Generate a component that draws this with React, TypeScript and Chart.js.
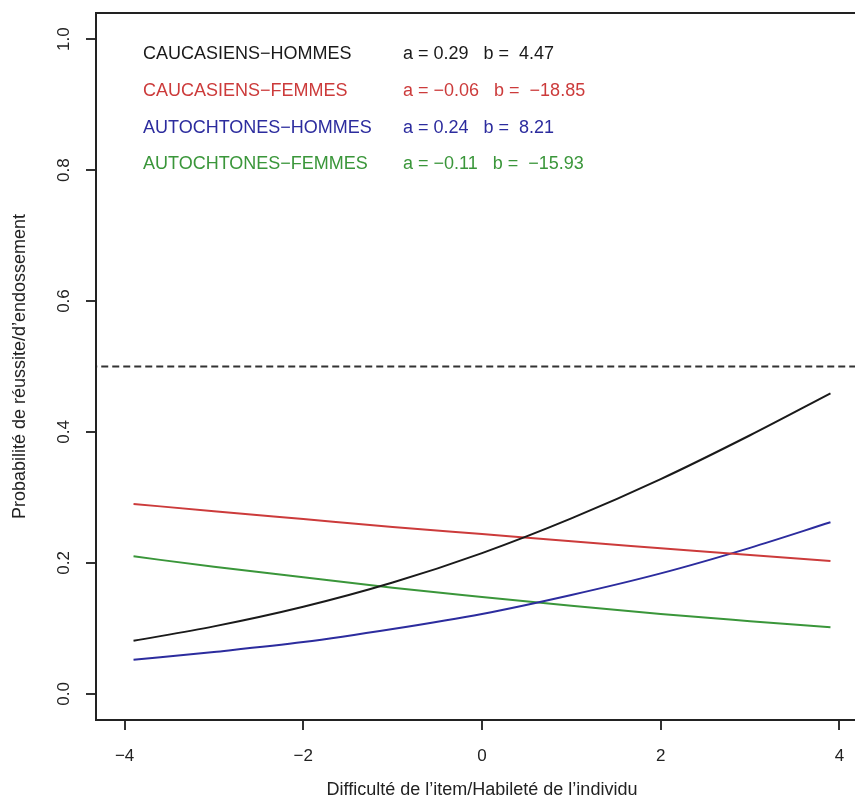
import React, { useEffect, useRef } from "react";
import { Chart, registerables } from "chart.js";

Chart.register(...registerables);

const xValues = [-3.9, -3, -2, -1, 0, 1, 2, 3, 3.9];
const caucHommes = [0.081, 0.103, 0.133, 0.17, 0.215, 0.268, 0.328, 0.395, 0.459];
const caucFemmes = [0.29, 0.279, 0.267, 0.255, 0.244, 0.233, 0.2225, 0.212, 0.203];
const autoHommes = [0.052, 0.064, 0.079, 0.099, 0.122, 0.151, 0.184, 0.223, 0.262];
const autoFemmes = [0.21, 0.194, 0.178, 0.162, 0.148, 0.1345, 0.122, 0.111, 0.1015];
const refLineX = [-5, 5];
const refLineY = [0.5, 0.5];

const xTicks = [-4, -2, 0, 2, 4];
const yTicks = [0, 0.2, 0.4, 0.6, 0.8, 1.0];

const groupNames = [
  "CAUCASIENS\u2212HOMMES",
  "CAUCASIENS\u2212FEMMES",
  "AUTOCHTONES\u2212HOMMES",
  "AUTOCHTONES\u2212FEMMES",
];
const paramTexts = [
  "a = 0.29   b =  4.47",
  "a = \u22120.06   b =  \u221218.85",
  "a = 0.24   b =  8.21",
  "a = \u22120.11   b =  \u221215.93",
];
const colors = ["#1a1a1a", "#cc3b3b", "#2c2c9e", "#3a963a"];

const FONT = "'Liberation Sans', Arial, Helvetica, sans-serif";

function pts(xs: number[], ys: number[]) {
  return xs.map((x, i) => ({ x, y: ys[i] }));
}

const boxAndText = {
  id: "boxAndText",
  afterDraw(chart: any) {
    const { ctx, chartArea } = chart;
    ctx.save();
    ctx.strokeStyle = "#222";
    ctx.lineWidth = 2;
    ctx.strokeRect(chartArea.left, chartArea.top, chartArea.right - chartArea.left, chartArea.bottom - chartArea.top);
    ctx.font = `18px ${FONT}`;
    ctx.textBaseline = "middle";
    ctx.textAlign = "left";
    const rowY = [54.5, 91, 128, 164.5];
    for (let i = 0; i < groupNames.length; i++) {
      ctx.fillStyle = colors[i];
      ctx.fillText(groupNames[i], 143, rowY[i]);
      ctx.fillText(paramTexts[i], 403, rowY[i]);
    }
    ctx.restore();
  },
};

export default function App() {
  const ref = useRef<HTMLCanvasElement | null>(null);
  useEffect(() => {
    if (!ref.current) return;
    const mk = (ys: number[], c: string) => ({
      data: pts(xValues, ys),
      borderColor: c,
      borderWidth: 2,
      pointRadius: 0,
      cubicInterpolationMode: "monotone" as const,
      fill: false,
    });
    const chart = new Chart(ref.current, {
      type: "line",
      data: {
        datasets: [
          {
            data: pts(refLineX, refLineY),
            borderColor: "#333",
            borderWidth: 2,
            borderDash: [7, 4],
            pointRadius: 0,
            fill: false,
          },
          mk(caucHommes, colors[0]),
          mk(caucFemmes, colors[1]),
          mk(autoHommes, colors[2]),
          mk(autoFemmes, colors[3]),
        ],
      },
      options: {
        responsive: false,
        animation: false,
        layout: { padding: { top: 13, right: 12, left: 0, bottom: 0 } },
        plugins: { legend: { display: false }, tooltip: { enabled: false } },
        scales: {
          x: {
            type: "linear",
            min: -4.32,
            max: 4.32,
            afterBuildTicks: (s: any) => {
              s.ticks = xTicks.map((v) => ({ value: v }));
            },
            afterFit: (s: any) => {
              s.height = 84;
              s.paddingLeft = 0;
              s.paddingRight = 0;
            },
            grid: { drawOnChartArea: false, drawTicks: true, tickLength: 10, color: "#333", lineWidth: 2 },
            border: { display: false },
            ticks: {
              color: "#222",
              font: { family: FONT, size: 17 },
              padding: 16,
              maxRotation: 0,
              callback: (v: any) => (Number(v) < 0 ? "\u2212" + Math.abs(Number(v)) : String(v)),
            },
            title: {
              display: true,
              text: "Difficulté de l\u2019item/Habileté de l\u2019individu",
              color: "#222",
              font: { family: FONT, size: 18 },
              padding: { top: 0, bottom: 3 },
            },
          },
          y: {
            type: "linear",
            min: -0.04,
            max: 1.04,
            afterBuildTicks: (s: any) => {
              s.ticks = yTicks.map((v) => ({ value: v }));
            },
            afterFit: (s: any) => {
              s.width = 96;
              s.paddingTop = 0;
              s.paddingBottom = 0;
            },
            grid: { drawOnChartArea: false, drawTicks: true, tickLength: 10, color: "#333", lineWidth: 2 },
            border: { display: false },
            ticks: {
              color: "#222",
              font: { family: FONT, size: 17 },
              padding: 10,
              minRotation: 90,
              maxRotation: 90,
              crossAlign: "center",
              callback: (v: any) => Number(v).toFixed(1),
            },
            title: {
              display: true,
              text: "Probabilité de réussite/d\u2019endossement",
              color: "#222",
              font: { family: FONT, size: 18 },
              padding: { top: 9, bottom: 0 },
            },
          },
        },
      },
      plugins: [boxAndText],
    });
    return () => chart.destroy();
  }, []);
  return (
    <div style={{ position: "fixed", left: 0, top: 0, width: 855, height: 804, overflow: "hidden", background: "#fff" }}>
      <canvas ref={ref} width={880} height={804} />
    </div>
  );
}
